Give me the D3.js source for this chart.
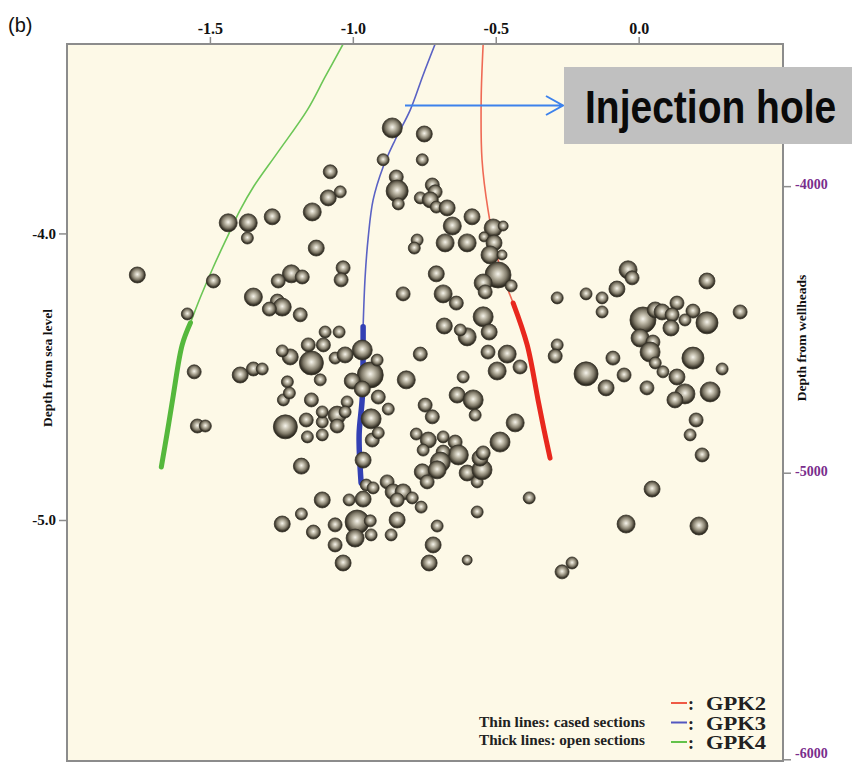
<!DOCTYPE html>
<meta charset="utf-8">
<script src="https://d3js.org/d3.v7.min.js"></script>
<body style="margin:0;background:#fff">
<script>

var width = 854
var height = 763

// axis ticks
var xTicks = [-1.5, -1.0, -0.5, 0.0]
var seaTicks = [-4.0, -5.0]
var wellheadTicks = [-4000, -5000, -6000]
var wellheadElevation = 0.165 // km above sea level

// well trajectories [x km, depth km below sea level]
var gpk2Cased = [[-0.544,-3.339],[-0.551,-3.534],[-0.548,-3.743],[-0.527,-3.918],[-0.492,-4.093],[-0.457,-4.197],[-0.439,-4.243]]
var gpk2Open = [[-0.439,-4.243],[-0.390,-4.389],[-0.352,-4.581],[-0.331,-4.686],[-0.310,-4.784]]
var gpk3Cased = [[-0.712,-3.339],[-0.754,-3.447],[-0.799,-3.569],[-0.852,-3.674],[-0.894,-3.768],[-0.929,-3.883],[-0.946,-4.012],[-0.957,-4.152],[-0.964,-4.326]]
var gpk3Open = [[-0.964,-4.326],[-0.967,-4.574],[-0.978,-4.703],[-0.971,-4.871]]
var gpk4Cased = [[-1.034,-3.339],[-1.097,-3.454],[-1.159,-3.569],[-1.264,-3.719],[-1.348,-3.838],[-1.394,-3.918],[-1.439,-4.012],[-1.488,-4.117],[-1.533,-4.222],[-1.568,-4.312]]
var gpk4Open = [[-1.568,-4.312],[-1.597,-4.389],[-1.628,-4.564],[-1.649,-4.693],[-1.670,-4.815]]

// seismic events [x km, depth km, magnitude]
var events = [
  [-1.436,-3.963,1.8],[-1.366,-3.963,1.8],[-1.369,-4.016,1.2],[-1.282,-3.942,1.6],[-1.142,-3.925,1.8],
  [-1.079,-3.785,1.4],[-1.086,-3.876,1.6],[-1.128,-4.051,1.6],[-1.754,-4.145,1.6],[-1.488,-4.166,1.4],
  [-1.215,-4.141,1.8],[-1.177,-4.152,1.4],[-1.261,-4.166,1.4],[-1.348,-4.222,1.8],[-1.264,-4.236,1.4],
  [-1.247,-4.257,1.8],[-1.292,-4.264,1.4],[-1.184,-4.284,1.4],[-1.579,-4.281,1.2],[-1.097,-4.344,1.2],
  [-0.862,-3.632,2.0],[-0.750,-3.653,1.6],[-0.894,-3.743,1.2],[-0.757,-3.743,1.2],[-0.848,-3.803,1.4],
  [-0.845,-3.852,2.2],[-0.841,-3.897,1.2],[-1.044,-3.855,1.2],[-0.722,-3.831,1.4],[-0.712,-3.855,1.4],
  [-0.764,-3.876,1.2],[-0.729,-3.883,1.6],[-0.708,-3.908,1.2],[-0.670,-3.911,1.6],[-0.583,-3.942,1.6],
  [-0.652,-3.974,1.8],[-0.677,-4.033,1.8],[-0.600,-4.033,1.8],[-0.775,-4.023,1.2],[-0.785,-4.051,1.2],
  [-0.509,-3.981,1.8],[-0.474,-3.974,1.0],[-0.541,-4.012,1.0],[-0.506,-4.033,1.6],[-0.520,-4.075,1.8],
  [-0.478,-4.075,1.0],[-0.492,-4.145,2.6],[-0.544,-4.173,1.8],[-0.537,-4.204,1.4],[-0.446,-4.183,1.2],
  [-1.034,-4.120,1.4],[-1.041,-4.162,1.4],[-0.708,-4.141,1.6],[-0.824,-4.211,1.4],[-0.684,-4.211,1.8],
  [-0.638,-4.243,1.4],[-0.544,-4.291,2.0],[-0.523,-4.344,1.6],[-0.680,-4.323,1.6],[-0.600,-4.361,1.8],
  [-0.624,-4.337,1.2],[-1.048,-4.344,1.2],
  [-0.037,-4.127,1.8],[-0.023,-4.155,1.4],[-0.076,-4.194,1.6],[-0.128,-4.225,1.2],[-0.128,-4.274,1.2],
  [-0.184,-4.211,1.2],[-0.285,-4.225,1.2],[0.239,-4.166,1.6],[0.355,-4.274,1.4],[0.015,-4.302,2.6],
  [0.058,-4.267,1.6],[0.082,-4.274,1.6],[0.134,-4.243,1.4],[0.117,-4.284,1.4],[0.190,-4.271,1.4],
  [0.162,-4.302,1.2],[0.239,-4.312,2.2],[0.113,-4.330,1.6],[0.005,-4.365,1.8],[0.050,-4.379,1.4],
  [-0.285,-4.389,1.2],[-0.292,-4.428,1.4],[-0.184,-4.490,2.4],[-0.090,-4.435,1.4],[-0.051,-4.494,1.4],
  [-0.114,-4.539,1.6],[0.029,-4.539,1.4],[0.040,-4.414,2.0],[0.058,-4.452,1.2],[0.085,-4.483,1.2],
  [0.190,-4.435,2.2],[0.292,-4.473,1.2],[0.134,-4.501,1.6],[0.162,-4.560,2.0],[0.127,-4.581,1.6],
  [0.250,-4.553,2.0],[0.201,-4.651,1.4],[0.180,-4.703,1.2],[0.222,-4.773,1.4],[0.047,-4.892,1.6],
  [-0.044,-5.014,1.8],[0.211,-5.021,1.8],[-0.268,-5.181,1.4],[-0.233,-5.150,1.2],
  [-1.555,-4.483,1.4],[-1.394,-4.494,1.6],[-1.348,-4.473,1.4],[-1.317,-4.473,1.2],[-1.544,-4.672,1.4],
  [-1.516,-4.672,1.2],[-1.236,-4.675,2.4],[-1.163,-4.651,1.4],[-1.159,-4.710,1.2],[-1.145,-4.581,1.4],
  [-1.229,-4.518,1.2],[-1.243,-4.581,1.2],[-1.222,-4.557,1.2],[-1.219,-4.431,1.6],[-1.247,-4.410,1.2],
  [-1.145,-4.452,2.4],[-1.114,-4.511,1.2],[-1.107,-4.658,1.2],[-1.107,-4.703,1.2],[-1.107,-4.623,1.2],
  [-1.180,-4.812,1.6],[-1.107,-4.930,1.6],[-1.180,-4.979,1.2],[-1.247,-5.014,1.6],[-1.138,-5.042,1.4],
  [-1.156,-4.389,1.4],[-1.103,-4.389,1.4],[-1.062,-4.435,1.2],
  [-1.027,-4.424,1.6],[-0.967,-4.407,2.0],[-0.939,-4.494,2.6],[-1.002,-4.515,1.6],[-0.967,-4.543,1.6],
  [-0.915,-4.442,1.2],[-0.764,-4.421,1.4],[-0.813,-4.511,1.8],[-0.911,-4.571,1.4],[-0.876,-4.613,1.2],
  [-1.020,-4.588,1.2],[-1.055,-4.634,1.8],[-1.055,-4.672,1.4],[-1.027,-4.623,1.2],[-0.936,-4.647,2.0],
  [-0.932,-4.721,1.4],[-0.911,-4.696,1.2],[-0.964,-4.791,1.6],[-0.880,-4.867,1.4],[-0.859,-4.902,1.6],
  [-0.824,-4.902,1.6],[-0.845,-4.930,1.4],[-0.792,-4.923,1.2],[-0.761,-4.955,1.2],[-0.953,-4.878,1.2],
  [-0.929,-4.888,1.2],[-0.964,-4.927,1.6],[-1.013,-4.930,1.2],[-0.985,-5.007,2.4],[-0.992,-5.063,1.8],
  [-0.939,-5.003,1.2],[-0.936,-5.052,1.2],[-1.062,-5.017,1.4],[-1.062,-5.087,1.4],[-1.034,-5.150,1.6],
  [-0.845,-5.000,1.6],[-0.866,-5.052,1.2],[-0.705,-5.021,1.2],[-0.719,-5.087,1.6],[-0.733,-5.150,1.6],
  [-0.600,-5.140,1.0],[-0.565,-4.972,1.2],[-0.383,-4.923,1.2],
  [-0.747,-4.599,1.4],[-0.722,-4.640,1.4],[-0.778,-4.700,1.2],[-0.736,-4.721,1.6],[-0.754,-4.756,1.2],
  [-0.684,-4.710,1.2],[-0.642,-4.728,1.4],[-0.631,-4.773,2.0],[-0.684,-4.763,1.4],[-0.694,-4.798,2.0],
  [-0.757,-4.832,1.6],[-0.740,-4.867,1.4],[-0.705,-4.825,1.8],[-0.600,-4.836,1.6],[-0.565,-4.867,1.2],
  [-0.548,-4.825,2.0],[-0.555,-4.784,1.6],[-0.544,-4.766,1.4],[-0.635,-4.564,1.6],[-0.579,-4.581,2.0],
  [-0.572,-4.634,1.2],[-0.614,-4.501,1.2],[-0.527,-4.414,1.4],[-0.460,-4.421,1.8],[-0.495,-4.480,1.8],
  [-0.415,-4.466,1.4],[-0.432,-4.661,1.8],[-0.485,-4.728,2.0]
]

var legendWells = [["GPK2", "#ef5a45"], ["GPK3", "#5257c0"], ["GPK4", "#63c24a"]]
var legendNotes = ["Thin lines: cased sections", "Thick lines: open sections"]

var x = d3.scaleLinear().domain([-2.0, 0.505]).range([67, 783])
var y = d3.scaleLinear().domain([-3.339, -5.841]).range([44, 761])
var yw = d3.scaleLinear()
  .domain([(-3.339 - wellheadElevation) * 1000, (-5.841 - wellheadElevation) * 1000])
  .range([44, 761])
var r = d3.scaleLinear().domain([0, 2.6]).range([0, 13])

var serif = "'Liberation Serif', 'DejaVu Serif', serif"

var svg = d3.select("body").append("svg")
  .attr("width", width).attr("height", height)
  .style("display", "block")

var defs = svg.append("defs")
var grad = defs.append("radialGradient").attr("id", "ball")
  .attr("cx", "50%").attr("cy", "46%").attr("r", "50%")
grad.append("stop").attr("offset", "0%").attr("stop-color", "#f6f4ec")
grad.append("stop").attr("offset", "32%").attr("stop-color", "#c2bdac")
grad.append("stop").attr("offset", "66%").attr("stop-color", "#827c6b")
grad.append("stop").attr("offset", "87%").attr("stop-color", "#4a4538")
grad.append("stop").attr("offset", "100%").attr("stop-color", "#2a271e")

defs.append("clipPath").attr("id", "plot")
  .append("rect").attr("x", 67).attr("y", 44).attr("width", 716).attr("height", 717)

// background
svg.append("rect").attr("x", 67).attr("y", 44).attr("width", 716).attr("height", 717)
  .attr("fill", "#fdf9e7")

// wells
var line = d3.line().x(function(d) { return x(d[0]) }).y(function(d) { return y(d[1]) })
  .curve(d3.curveCatmullRom)
var wells = svg.append("g").attr("clip-path", "url(#plot)").attr("fill", "none")
  .attr("stroke-linecap", "round")
wells.append("path").attr("d", line(gpk2Cased)).attr("stroke", "#ef6a55").attr("stroke-width", 1.6)
wells.append("path").attr("d", line(gpk2Open)).attr("stroke", "#e8281e").attr("stroke-width", 5)
wells.append("path").attr("d", line(gpk3Cased)).attr("stroke", "#5a62c4").attr("stroke-width", 1.6)
wells.append("path").attr("d", line(gpk3Open)).attr("stroke", "#3340b4").attr("stroke-width", 5.5)
wells.append("path").attr("d", line(gpk4Cased)).attr("stroke", "#6cc656").attr("stroke-width", 1.6)
wells.append("path").attr("d", line(gpk4Open)).attr("stroke", "#55b83c").attr("stroke-width", 5)

// events
svg.append("g").selectAll("circle").data(events).join("circle")
  .attr("cx", function(d) { return x(d[0]) })
  .attr("cy", function(d) { return y(d[1]) })
  .attr("r", function(d) { return r(d[2]) })
  .attr("fill", "url(#ball)")
  .attr("stroke", "#363228").attr("stroke-width", 0.8)

// frame
svg.append("rect").attr("x", 67).attr("y", 44).attr("width", 716).attr("height", 717)
  .attr("fill", "none").attr("stroke", "#8c8c8c").attr("stroke-width", 2)

// axes
function styleAxis(g, color) {
  g.select(".domain").remove()
  g.selectAll(".tick line").attr("stroke", "#8c8c8c").attr("stroke-width", 1.5)
  g.selectAll(".tick text").attr("fill", color).style("font-family", serif)
    .style("font-weight", "bold")
}

svg.append("g").attr("transform", "translate(0,44)")
  .call(d3.axisTop(x).tickValues(xTicks).tickSize(7).tickPadding(3)
    .tickFormat(function(d) { return d.toFixed(1) }))
  .call(styleAxis, "#111")
  .selectAll("text").style("font-size", "16px")

svg.append("g").attr("transform", "translate(67,0)")
  .call(d3.axisLeft(y).tickValues(seaTicks).tickSize(8).tickPadding(3)
    .tickFormat(function(d) { return d.toFixed(1) }))
  .call(styleAxis, "#111")
  .selectAll("text").style("font-size", "15px")

svg.append("g").attr("transform", "translate(783,0)")
  .call(d3.axisRight(yw).tickValues(wellheadTicks).tickSize(8).tickPadding(4)
    .tickFormat(function(d) { return String(d) }))
  .call(styleAxis, "#7a2d8c")
  .selectAll("text").style("font-size", "14px")
  .attr("dy", function(d) { return d === -6000 ? "-0.1em" : "0.2em" })

svg.append("text").attr("transform", "translate(52,368) rotate(-90)")
  .attr("text-anchor", "middle").style("font-family", serif).style("font-weight", "bold")
  .style("font-size", "13.5px").attr("fill", "#111").text("Depth from sea level")

svg.append("text").attr("transform", "translate(806,338) rotate(-90)")
  .attr("text-anchor", "middle").style("font-family", serif).style("font-weight", "bold")
  .style("font-size", "13.5px").attr("fill", "#111").text("Depth from wellheads")

svg.append("text").attr("x", 8).attr("y", 32)
  .style("font-family", "'Liberation Sans', Arial, sans-serif").style("font-size", "20px")
  .attr("fill", "#111").text("(b)")

// legend
var legend = svg.append("g").style("font-family", serif).style("font-weight", "bold").attr("fill", "#222")
legend.selectAll("text.note").data(legendNotes).join("text").attr("class", "note")
  .attr("x", 479).attr("y", function(d, i) { return 727 + i * 18 })
  .attr("textLength", 166).attr("lengthAdjust", "spacingAndGlyphs")
  .style("font-size", "14px").text(function(d) { return d })
legend.selectAll("line").data(legendWells).join("line")
  .attr("x1", 671).attr("x2", 687)
  .attr("y1", function(d, i) { return 703 + i * 19.5 }).attr("y2", function(d, i) { return 703 + i * 19.5 })
  .attr("stroke", function(d) { return d[1] }).attr("stroke-width", 2)
legend.selectAll("text.colon").data(legendWells).join("text").attr("class", "colon")
  .attr("x", 688).attr("y", function(d, i) { return 710 + i * 19.5 })
  .style("font-size", "18px").text(":")
legend.selectAll("text.well").data(legendWells).join("text").attr("class", "well")
  .attr("x", 706).attr("y", function(d, i) { return 710 + i * 19.5 })
  .attr("textLength", 60).attr("lengthAdjust", "spacingAndGlyphs")
  .style("font-size", "18px").text(function(d) { return d[0] })

// annotation
svg.append("path").attr("d", "M405,105.5 H562 M546,96 L563,105.5 L546,115")
  .attr("fill", "none").attr("stroke", "#3d82ec").attr("stroke-width", 2)
svg.append("rect").attr("x", 564).attr("y", 67).attr("width", 288).attr("height", 77)
  .attr("fill", "#c0c0c0")
svg.append("text").attr("transform", "translate(585,123) scale(1,1.18)")
  .style("font-family", "'Liberation Sans', Arial, sans-serif")
  .style("font-weight", "bold").style("font-size", "39px").attr("fill", "#0a0a0a")
  .text("Injection hole")

</script>
</body>
